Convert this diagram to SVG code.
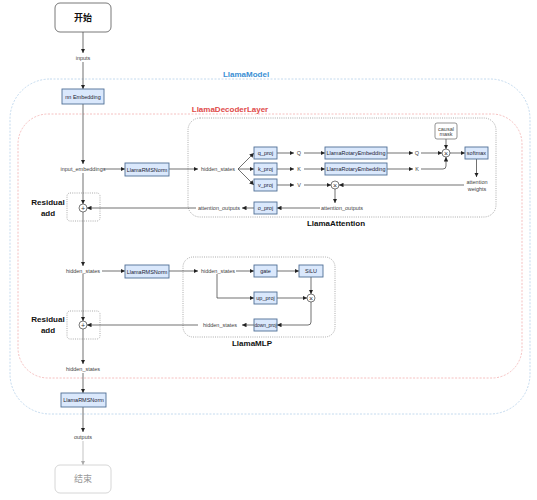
<svg xmlns="http://www.w3.org/2000/svg" width="537" height="500" viewBox="0 0 537 500">
<defs>
<marker id="a" viewBox="0 0 10 10" markerWidth="4.5" markerHeight="4.5" refX="10" refY="5" orient="auto" markerUnits="userSpaceOnUse"><path d="M0,0L10,5L0,10z" fill="#222"/></marker>
<marker id="ag" viewBox="0 0 10 10" markerWidth="4.5" markerHeight="4.5" refX="10" refY="5" orient="auto" markerUnits="userSpaceOnUse"><path d="M0,0L10,5L0,10z" fill="#aaa"/></marker>
</defs>
<style>
.b{fill:#dae8fc;stroke:#4f6f96;stroke-width:0.9}
.bt{font-family:"Liberation Sans",Arial,sans-serif;font-size:5.5px;fill:#223;text-anchor:middle;dominant-baseline:central}
.s{font-family:"Liberation Sans",Arial,sans-serif;font-size:5.5px;fill:#444;text-anchor:middle;dominant-baseline:central}
.h{font-family:"Liberation Sans",Arial,sans-serif;font-size:8px;font-weight:bold;text-anchor:middle;dominant-baseline:central}
.c line,.c path{stroke:#333;stroke-width:0.7;fill:none;marker-end:url(#a)}
.op{fill:#fff;stroke:#444;stroke-width:0.7}
.ot{font-family:"Liberation Sans",Arial,sans-serif;font-size:7px;fill:#333;text-anchor:middle;dominant-baseline:central}
.dg{fill:none;stroke:#888;stroke-width:0.7;stroke-dasharray:1 1.2}
</style>
<rect x="10" y="79" width="520" height="335" rx="40" fill="none" stroke="#b5d0ea" stroke-width="0.8" stroke-dasharray="2 1.5"/>
<text class="h" x="246" y="74" fill="#3b8fd4">LlamaModel</text>
<rect x="18" y="114" width="504" height="264" rx="30" fill="none" stroke="#f2b0b0" stroke-width="0.8" stroke-dasharray="2 1.5"/>
<text class="h" x="230" y="109" fill="#e04a4a">LlamaDecoderLayer</text>
<g id="attention"><rect class="dg" x="188" y="118" width="308" height="99" rx="12"/><text class="h" x="336" y="223" fill="#111">LlamaAttention</text></g>
<g id="mlp"><rect class="dg" x="183" y="257" width="152" height="80" rx="10"/><text class="h" x="252" y="343" fill="#111">LlamaMLP</text></g>
<g id="res1"><rect class="dg" x="67" y="193" width="33" height="28" rx="3"/><text class="h" x="48" y="202" fill="#111">Residual</text><text class="h" x="48" y="213" fill="#111">add</text></g>
<g id="res2"><rect class="dg" x="67" y="311" width="33" height="28" rx="3"/><text class="h" x="48" y="319" fill="#111">Residual</text><text class="h" x="48" y="330" fill="#111">add</text></g>
<g id="connectors" class="c">
<line x1="83" y1="32" x2="83" y2="53"/>
<line x1="83" y1="62" x2="83" y2="89"/>
<line x1="83" y1="104" x2="83" y2="164"/>
<line x1="104" y1="169" x2="125" y2="169"/>
<line x1="169" y1="169" x2="198" y2="169"/>
<line x1="238" y1="169" x2="254" y2="153"/>
<line x1="238" y1="169" x2="254" y2="169"/>
<line x1="238" y1="169" x2="254" y2="185"/>
<line x1="277" y1="153" x2="294" y2="153"/>
<line x1="304" y1="153" x2="325" y2="153"/>
<line x1="277" y1="169" x2="294" y2="169"/>
<line x1="304" y1="169" x2="325" y2="169"/>
<line x1="277" y1="185" x2="294" y2="185"/>
<line x1="304" y1="185" x2="331" y2="185"/>
<line x1="387" y1="153" x2="413" y2="153"/>
<line x1="387" y1="169" x2="413" y2="169"/>
<line x1="421" y1="153" x2="442" y2="153"/>
<path d="M421,169H443Q446,169 446,166V157"/>
<line x1="446" y1="139" x2="446" y2="149"/>
<line x1="450" y1="153" x2="465" y2="153"/>
<line x1="476.5" y1="159" x2="476.5" y2="177"/>
<line x1="464" y1="185" x2="339" y2="185"/>
<line x1="335" y1="189" x2="335" y2="203"/>
<line x1="320" y1="208" x2="277" y2="208"/>
<line x1="254" y1="208" x2="242" y2="208"/>
<line x1="196" y1="208" x2="87" y2="208"/>
<line x1="83" y1="173" x2="83" y2="204"/>
<line x1="83" y1="212" x2="83" y2="266"/>
<line x1="102" y1="271" x2="125" y2="271"/>
<line x1="169" y1="271" x2="198" y2="271"/>
<line x1="236" y1="271" x2="254" y2="271"/>
<line x1="277" y1="271" x2="299" y2="271"/>
<line x1="311" y1="277" x2="311" y2="294"/>
<path d="M217,274V298H254"/>
<line x1="277" y1="298" x2="307" y2="298"/>
<path d="M311,302V322Q311,325 308,325H277"/>
<line x1="254" y1="325" x2="242" y2="325"/>
<line x1="198" y1="325" x2="87" y2="325"/>
<line x1="83" y1="274" x2="83" y2="321"/>
<line x1="83" y1="329" x2="83" y2="364"/>
<line x1="83" y1="373" x2="83" y2="393"/>
<line x1="83" y1="407" x2="83" y2="432"/>
<line x1="83" y1="441" x2="83" y2="465" style="stroke:#aaa;marker-end:url(#ag)"/>
</g>
<g id="labels">
<text class="s" x="83" y="58">inputs</text>
<text class="s" x="83" y="169">input_embeddings</text>
<text class="s" x="218" y="169">hidden_states</text>
<text class="s" x="299" y="153">Q</text>
<text class="s" x="299" y="169">K</text>
<text class="s" x="299" y="185">V</text>
<text class="s" x="417" y="153">Q</text>
<text class="s" x="417" y="169">K</text>
<text class="s" x="477" y="182">attention</text>
<text class="s" x="477" y="189">weights</text>
<text class="s" x="342" y="208">attention_outputs</text>
<text class="s" x="219" y="208">attention_outputs</text>
<text class="s" x="83" y="271">hidden_states</text>
<text class="s" x="218" y="271">hidden_states</text>
<text class="s" x="220" y="325">hidden_states</text>
<text class="s" x="83" y="369">hidden_states</text>
<text class="s" x="83" y="437">outputs</text>
</g>
<g id="start"><rect x="55" y="3" width="56" height="29" rx="5" fill="#fff" stroke="#555" stroke-width="0.8"/><text x="83" y="18" font-family="'Liberation Sans','Noto Sans CJK SC',sans-serif" font-size="9" font-weight="bold" text-anchor="middle" dominant-baseline="central" fill="#111">开始</text></g>
<g id="end"><rect x="55" y="465" width="56" height="28" rx="5" fill="#fff" stroke="#ccc" stroke-width="0.8"/><text x="83" y="479" font-family="'Liberation Sans','Noto Sans CJK SC',sans-serif" font-size="9" text-anchor="middle" dominant-baseline="central" fill="#999">结束</text></g>
<g id="embedding"><rect class="b" x="62" y="89" width="42" height="15"/><text class="bt" x="83" y="96.5">nn Embedding</text></g>
<g id="rmsnorm1"><rect class="b" x="125" y="163" width="44" height="13"/><text class="bt" x="147" y="169.5">LlamaRMSNorm</text></g>
<g id="q_proj"><rect class="b" x="254" y="147" width="23" height="12"/><text class="bt" x="265.5" y="153">q_proj</text></g>
<g id="k_proj"><rect class="b" x="254" y="163" width="23" height="12"/><text class="bt" x="265.5" y="169">k_proj</text></g>
<g id="v_proj"><rect class="b" x="254" y="179" width="23" height="12"/><text class="bt" x="265.5" y="185">v_proj</text></g>
<g id="rotary_q"><rect class="b" x="325" y="147" width="62" height="12"/><text class="bt" x="356" y="153">LlamaRotaryEmbedding</text></g>
<g id="rotary_k"><rect class="b" x="325" y="163" width="62" height="12"/><text class="bt" x="356" y="169">LlamaRotaryEmbedding</text></g>
<g id="causal_mask"><rect x="435" y="123" width="22" height="16" rx="2" fill="#fff" stroke="#666" stroke-width="0.7"/><text class="s" x="446" y="128.5">causal</text><text class="s" x="446" y="134">mask</text></g>
<g id="mul_qk"><circle class="op" cx="446" cy="153" r="4"/><text class="ot" x="446" y="153">×</text></g>
<g id="softmax"><rect class="b" x="465" y="147" width="23" height="12"/><text class="bt" x="476.5" y="153">softmax</text></g>
<g id="mul_v"><circle class="op" cx="335" cy="185" r="4"/><text class="ot" x="335" y="185">×</text></g>
<g id="o_proj"><rect class="b" x="254" y="202" width="23" height="12"/><text class="bt" x="265.5" y="208">o_proj</text></g>
<g id="add1"><circle class="op" cx="83" cy="208" r="4"/><text class="ot" x="83" y="208">+</text></g>
<g id="rmsnorm2"><rect class="b" x="125" y="265" width="44" height="13"/><text class="bt" x="147" y="271.5">LlamaRMSNorm</text></g>
<g id="gate"><rect class="b" x="254" y="265" width="23" height="12"/><text class="bt" x="265.5" y="271">gate</text></g>
<g id="silu"><rect class="b" x="299" y="265" width="24" height="12"/><text class="bt" x="311" y="271">SiLU</text></g>
<g id="up_proj"><rect class="b" x="254" y="292" width="23" height="12"/><text class="bt" x="265.5" y="298">up_proj</text></g>
<g id="mul_mlp"><circle class="op" cx="311" cy="298" r="4"/><text class="ot" x="311" y="298">×</text></g>
<g id="down_proj"><rect class="b" x="254" y="319" width="23" height="12"/><text class="bt" x="265.5" y="325" style="font-size:4.8px">down_proj</text></g>
<g id="add2"><circle class="op" cx="83" cy="325" r="4"/><text class="ot" x="83" y="325">+</text></g>
<g id="rmsnorm_final"><rect class="b" x="61" y="393" width="45" height="14"/><text class="bt" x="83.5" y="400">LlamaRMSNorm</text></g>
</svg>
